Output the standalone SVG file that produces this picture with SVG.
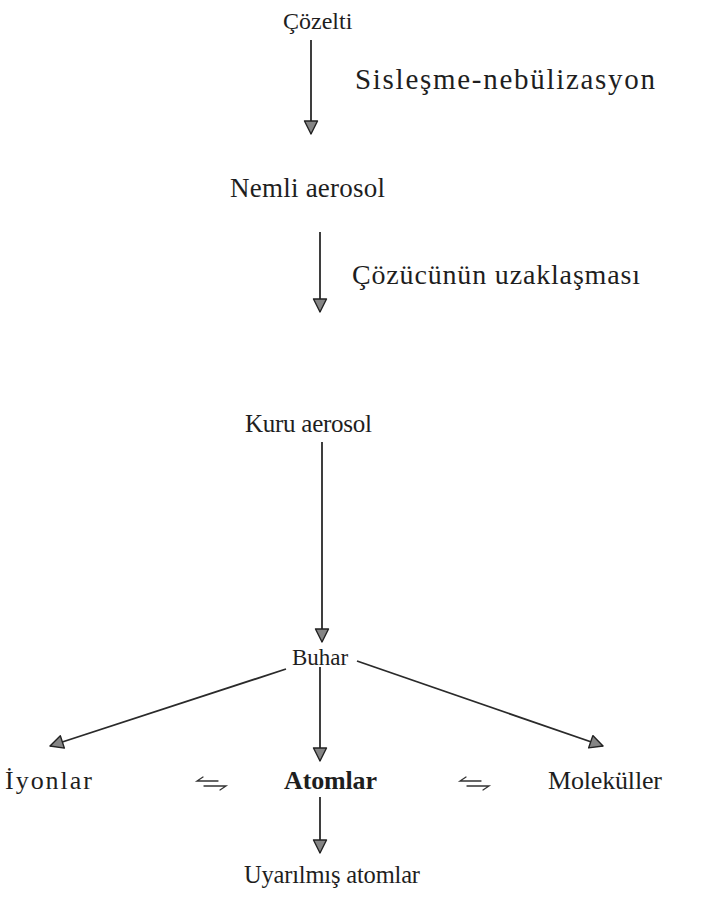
<svg xmlns="http://www.w3.org/2000/svg" width="701" height="919" viewBox="0 0 701 919">
  <defs>
    <style>
      .lbl { font-family: "Liberation Serif", "Times New Roman", serif; font-size: 26px; fill: #1e1e1e; }
      .bold { font-weight: bold; }
      .edge { stroke: #2a2a2a; stroke-width: 1.8; fill: none; }
      .eq { stroke: #333; stroke-width: 1.3; fill: none; stroke-linecap: round; }
    </style>
    <marker id="tri" viewBox="0 0 15 16" refX="14" refY="8" markerWidth="15" markerHeight="16" markerUnits="userSpaceOnUse" orient="auto">
      <path d="M1,1.5 L14,8 L1,14.5 Z" fill="#858585" stroke="#222" stroke-width="1.4" stroke-linejoin="round"/>
    </marker>
  </defs>
  <rect width="701" height="919" fill="#ffffff"/>

  <!-- connectors -->
  <g id="connectors">
    <line class="edge" x1="311" y1="40" x2="311" y2="134" marker-end="url(#tri)"/>
    <line class="edge" x1="320" y1="232" x2="320" y2="312" marker-end="url(#tri)"/>
    <line class="edge" x1="322" y1="442" x2="322" y2="642" marker-end="url(#tri)"/>
    <line class="edge" x1="286" y1="669" x2="50" y2="746" marker-end="url(#tri)"/>
    <line class="edge" x1="320" y1="667" x2="320" y2="761" marker-end="url(#tri)"/>
    <line class="edge" x1="357" y1="661" x2="603" y2="746" marker-end="url(#tri)"/>
    <line class="edge" x1="320" y1="797" x2="320" y2="853" marker-end="url(#tri)"/>
    <!-- equilibrium harpoons -->
    <path class="eq" d="M218,781 L197,781 L203,777"/>
    <path class="eq" d="M204,786 L226,786 L220,790"/>
    <path class="eq" d="M481,781 L460,781 L466,777"/>
    <path class="eq" d="M467,786 L489,786 L483,790"/>
  </g>

  <!-- nodes -->
  <g id="n-cozelti"><text class="lbl" x="283" y="29" style="font-size:24px">Çözelti</text></g>
  <g id="e-sislesme"><text class="lbl" x="355" y="89" style="font-size:29px" textLength="300" lengthAdjust="spacing">Sisleşme-nebülizasyon</text></g>
  <g id="n-nemli"><text class="lbl" x="230" y="197" style="font-size:27px" textLength="155" lengthAdjust="spacing">Nemli aerosol</text></g>
  <g id="e-cozucu"><text class="lbl" x="352" y="284" style="font-size:28px" textLength="288" lengthAdjust="spacing">Çözücünün uzaklaşması</text></g>
  <g id="n-kuru"><text class="lbl" x="245" y="432" style="font-size:25px" textLength="127" lengthAdjust="spacing">Kuru aerosol</text></g>
  <g id="n-buhar"><text class="lbl" x="292" y="665" style="font-size:23px">Buhar</text></g>
  <g id="n-iyonlar"><text class="lbl" x="5" y="789" textLength="87" lengthAdjust="spacing">İyonlar</text></g>
  <g id="n-atomlar"><text class="lbl bold" x="284" y="789" textLength="93" lengthAdjust="spacing">Atomlar</text></g>
  <g id="n-molekuller"><text class="lbl" x="548" y="789" textLength="114" lengthAdjust="spacing">Moleküller</text></g>
  <g id="n-uyarilmis"><text class="lbl" x="244" y="883" style="font-size:24.5px" textLength="176" lengthAdjust="spacing">Uyarılmış atomlar</text></g>
</svg>
